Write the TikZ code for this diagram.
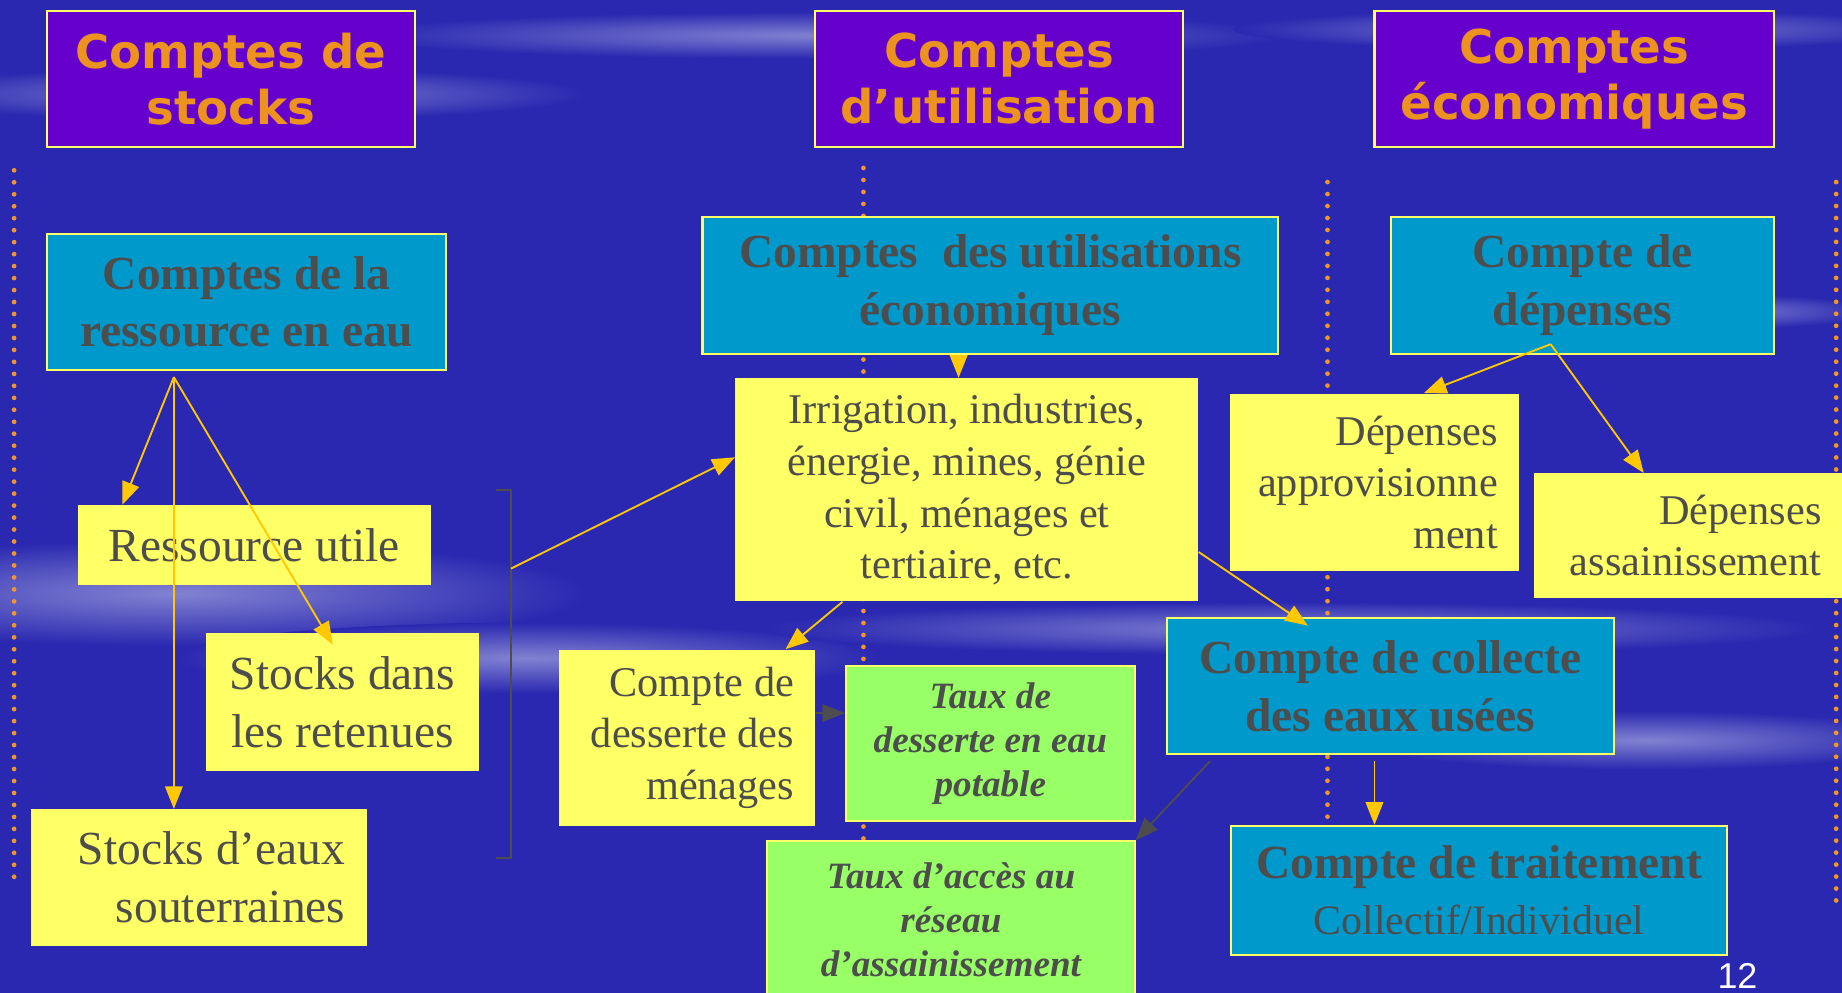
\documentclass[tikz,border=0pt]{standalone}
\usepackage{fontspec}
\setmainfont{Liberation Serif}
\newfontfamily\headfont{DejaVu Sans}
\newfontfamily\numfont{Liberation Sans}
\usetikzlibrary{arrows.meta}

\definecolor{bgblue}{RGB}{42,40,176}
\definecolor{streak}{RGB}{130,130,210}
\definecolor{headviolet}{RGB}{102,0,204}
\definecolor{headorange}{RGB}{236,146,30}
\definecolor{acctblue}{RGB}{0,153,204}
\definecolor{boxyellow}{RGB}{255,255,102}
\definecolor{boxgreen}{RGB}{153,255,102}
\definecolor{textgray}{RGB}{77,77,77}
\definecolor{arrowgold}{RGB}{255,200,0}
\definecolor{dotorange}{RGB}{240,150,40}

\tikzset{
  header/.style={draw=boxyellow, line width=1pt, fill=headviolet, text=headorange,
    minimum height=2.32cm, align=center,
    font=\headfont\bfseries\fontsize{22.6}{27.2}\selectfont},
  account/.style={draw=boxyellow, line width=1pt, fill=acctblue, text=textgray,
    minimum height=2.32cm, align=center,
    font=\bfseries\fontsize{23}{28}\selectfont},
  yitem/.style={fill=boxyellow, text=textgray, align=center,
    font=\fontsize{20.5}{25}\selectfont},
  bigitem/.style={yitem, font=\fontsize{23}{28}\selectfont},
  rate/.style={draw=boxyellow, line width=0.8pt, fill=boxgreen, text=textgray, align=center,
    font=\bfseries\itshape\fontsize{18}{21.5}\selectfont},
  arr/.style={draw=arrowgold, line width=0.9pt, -{Triangle[length=11pt,width=8.5pt]}},
  grayarr/.style={draw=textgray, line width=0.9pt, -{Triangle[length=11pt,width=8.5pt]}},
  sepline/.style={dotorange, line width=2.3pt, line cap=round, dash pattern=on 0pt off 5.8pt},
}

\begin{document}
\begin{tikzpicture}
\useasboundingbox (0,0) rectangle (31.36,-16.9);
\fill[bgblue] (0,0) rectangle (31.36,-16.9);
\shade[inner color=streak, outer color=bgblue] (4,-1.6) ellipse (6 and 0.45);
\shade[inner color=streak, outer color=bgblue] (14,-0.6) ellipse (8 and 0.4);
\shade[inner color=streak, outer color=bgblue] (27,-0.5) ellipse (6 and 0.35);
\shade[inner color=streak, outer color=bgblue] (3,-10.1) ellipse (7 and 0.9);
\shade[inner color=streak, outer color=bgblue] (9,-11.2) ellipse (6 and 0.6);
\shade[inner color=streak, outer color=bgblue] (22,-10.7) ellipse (9 and 0.45);
\shade[inner color=streak, outer color=bgblue] (28,-12.6) ellipse (5 and 0.5);
\shade[inner color=streak, outer color=bgblue] (29,-5.3) ellipse (3 and 0.3);

\draw[sepline] (0.24,-2.9) -- (0.24,-14.96);
\draw[sepline] (14.7,-2.86) -- (14.7,-14.4);
\draw[sepline] (22.6,-3.1) -- (22.6,-14.0);
\draw[sepline] (31.26,-3.1) -- (31.26,-15.5);

\node (hstock) at (3.93,-1.34) [header, minimum width=6.26cm] {Comptes de\\stocks};
\node (hutil)  at (17.01,-1.34) [header, minimum width=6.26cm] {Comptes\\d’utilisation};
\node (heco)   at (26.8,-1.34) [header, minimum width=6.8cm] {Comptes\\économiques};

\node (ressource) at (4.2,-5.14) [account, minimum width=6.8cm] {Comptes de la\\ressource en eau};
\node (utilisations) at (16.86,-4.86) [account, minimum width=9.8cm] {Comptes\ \ des utilisations\\économiques};
\node (depenses) at (26.94,-4.86) [account, minimum width=6.52cm] {Compte de\\dépenses};
\node (collecte) at (23.67,-11.68) [account, minimum width=7.62cm] {Compte de collecte\\des eaux usées};
\node (traitement) at (25.18,-15.16) [account, minimum width=8.44cm, minimum height=2.2cm]
  {Compte de traitement\\[-1pt]{\mdseries\fontsize{20.3}{25}\selectfont Collectif/Individuel}};

\node (utile) at (4.33,-9.28) [bigitem, minimum width=6.02cm, minimum height=1.36cm] {Ressource utile};
\node (retenues) at (5.83,-11.95) [bigitem, minimum width=4.66cm, minimum height=2.34cm] {Stocks dans\\les retenues};
\node (souterr) at (3.38,-14.94) [bigitem, align=flush right, text width=5.0cm, inner xsep=0.36cm,
  minimum height=2.32cm] {Stocks d’eaux\\souterraines};

\node (irrig) at (16.46,-8.34) [yitem, minimum width=7.88cm, minimum height=3.8cm]
  {Irrigation, industries,\\énergie, mines, génie\\civil, ménages et\\tertiaire, etc.};
\node (menages) at (11.7,-12.56) [yitem, align=flush right, text width=3.64cm, inner xsep=0.36cm,
  minimum height=3.0cm] {Compte de\\desserte des\\ménages};
\node (approv) at (23.4,-8.21) [yitem, align=flush right, text width=4.2cm, inner xsep=0.36cm,
  minimum height=3.02cm] {Dépenses\\approvisionne\\ment};
\node (assain) at (28.76,-9.12) [yitem, align=flush right, text width=4.5cm, inner xsep=0.39cm,
  minimum height=2.12cm] {Dépenses\\assainissement};

\node (tdesserte) at (16.86,-12.66) [rate, minimum width=4.92cm, minimum height=2.64cm]
  {Taux de\\desserte en eau\\potable};
\node (tacces) at (16.19,-15.66) [rate, minimum width=6.26cm, minimum height=2.68cm]
  {Taux d’accès au\\réseau\\d’assainissement};

\coordinate (brtop) at (8.7,-8.34);
\coordinate (brbot) at (8.7,-14.6);
\coordinate (brk) at (8.7,-9.68);
\draw[textgray, line width=1pt] ([xshift=-0.26cm]brtop) -- (brtop) -- (brbot) -- ([xshift=-0.26cm]brbot);

\coordinate (fork) at (2.96,-6.42);
\coordinate (dep) at (26.4,-5.86);

\path (fork) edge[arr] (utile.163);
\path (fork) edge[arr] (fork |- souterr.north);
\path (fork) edge[arr] ([yshift=-0.2cm]retenues.98);
\path (brk) edge[arr] (irrig.172);
\path ([xshift=-1.4mm]irrig.north |- utilisations.south) edge[arr] ([xshift=-1.4mm]irrig.north);
\path (irrig.222) edge[arr] (menages.42);
\path ([yshift=0.42cm]menages.east) edge[grayarr] ([yshift=0.42cm]menages.east -| tdesserte.west);
\path (irrig.345) edge[arr] ([yshift=-0.15cm]collecte.140);
\path ([yshift=-0.1cm]collecte.201) edge[grayarr] (tacces.north east);
\path ([xshift=-0.27cm,yshift=-0.1cm]collecte.south) edge[arr] ([xshift=-0.27cm]collecte.south |- traitement.north);
\path (dep) edge[arr] (approv.61);
\path (dep) edge[arr] (assain.126);

\node (pagenum) at (29.58,-16.62) [text=white, font=\numfont\fontsize{17.4}{20}\selectfont] {12};
\end{tikzpicture}
\end{document}
